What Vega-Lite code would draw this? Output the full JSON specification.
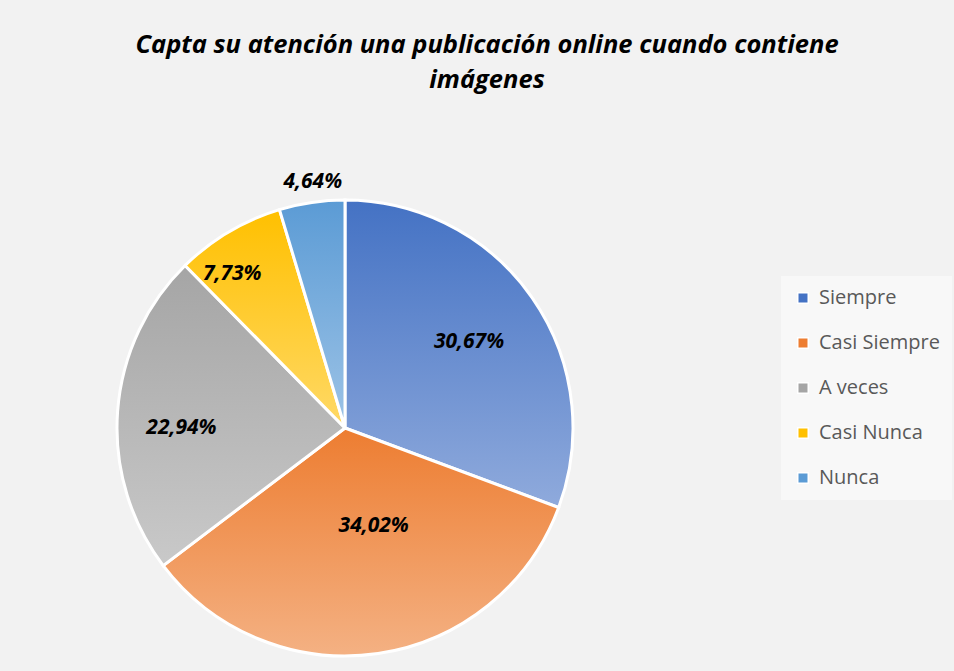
{
  "$schema": "https://vega.github.io/schema/vega-lite/v6.json",
  "width": 690,
  "height": 456,
  "autosize": {"type": "none"},
  "padding": {"left": 0, "top": 200, "right": 264, "bottom": 15},
  "background": "#f2f2f2",
  "title": {
    "text": ["Capta su atención una publicación online cuando contiene", "imágenes"],
    "anchor": "middle",
    "dx": 142,
    "offset": 77,
    "font": "Open Sans",
    "fontSize": 25.5,
    "fontStyle": "italic",
    "fontWeight": "bold",
    "color": "#000000",
    "lineHeight": 35
  },
  "config": {
    "view": {"stroke": null},
    "legend": {
      "orient": "none",
      "legendX": 781,
      "legendY": 76,
      "fillColor": "#f8f8f8",
      "padding": 12,
      "symbolType": "square",
      "symbolSize": 110,
      "symbolStrokeColor": "#ffffff",
      "symbolStrokeWidth": 1.5,
      "symbolOpacity": 1,
      "labelFont": "Open Sans",
      "labelFontSize": 20,
      "labelColor": "#595959",
      "labelOffset": 6,
      "rowPadding": 25,
      "labelLimit": 300
    }
  },
  "data": {
    "values": [
      {"cat": "Siempre", "pct": 30.67, "label": "30,67%"},
      {"cat": "Casi Siempre", "pct": 34.02, "label": "34,02%"},
      {"cat": "A veces", "pct": 22.94, "label": "22,94%"},
      {"cat": "Casi Nunca", "pct": 7.73, "label": "7,73%"},
      {"cat": "Nunca", "pct": 4.64, "label": "4,64%"}
    ]
  },
  "transform": [{"window": [{"op": "row_number", "as": "i"}]}],
  "encoding": {
    "theta": {"field": "pct", "type": "quantitative", "stack": true},
    "order": {"field": "i", "type": "quantitative"}
  },
  "layer": [
    {
      "mark": {"type": "arc", "outerRadius": 228, "opacity": 0},
      "encoding": {
        "color": {
          "field": "cat",
          "type": "nominal",
          "sort": ["Siempre", "Casi Siempre", "A veces", "Casi Nunca", "Nunca"],
          "scale": {
            "domain": ["Siempre", "Casi Siempre", "A veces", "Casi Nunca", "Nunca"],
            "range": ["#4472C4", "#ED7D31", "#A5A5A5", "#FFC000", "#5B9BD5"]
          },
          "legend": {"title": null, "symbolOpacity": 1, "labelFontSize": 20}
        }
      }
    },
    {
      "mark": {"type": "arc", "outerRadius": 228, "stroke": "#ffffff", "strokeWidth": 3},
      "encoding": {
        "fill": {
          "condition": [
            {"test": "datum.cat === 'Siempre'", "value": {"gradient": "linear", "x1": 0, "y1": 0, "x2": 0, "y2": 1, "stops": [{"offset": 0, "color": "#4472C4"}, {"offset": 1, "color": "#8FAADC"}]}},
            {"test": "datum.cat === 'Casi Siempre'", "value": {"gradient": "linear", "x1": 0, "y1": 0, "x2": 0, "y2": 1, "stops": [{"offset": 0, "color": "#ED7D31"}, {"offset": 1, "color": "#F4B183"}]}},
            {"test": "datum.cat === 'A veces'", "value": {"gradient": "linear", "x1": 0, "y1": 0, "x2": 0, "y2": 1, "stops": [{"offset": 0, "color": "#A5A5A5"}, {"offset": 1, "color": "#C9C9C9"}]}},
            {"test": "datum.cat === 'Casi Nunca'", "value": {"gradient": "linear", "x1": 0, "y1": 0, "x2": 0, "y2": 1, "stops": [{"offset": 0, "color": "#FFC000"}, {"offset": 1, "color": "#FFD966"}]}}
          ],
          "value": {"gradient": "linear", "x1": 0, "y1": 0, "x2": 0, "y2": 1, "stops": [{"offset": 0, "color": "#5B9BD5"}, {"offset": 1, "color": "#9DC3E6"}]}
        }
      }
    },
    {
      "mark": {"type": "text", "radius": 151, "font": "Open Sans", "fontSize": 21, "fontStyle": "italic", "fontWeight": "bold", "fill": "#000000"},
      "encoding": {"text": {"field": "label"}, "opacity": {"condition": {"test": "datum.cat === 'Siempre'", "value": 1}, "value": 0}}
    },
    {
      "mark": {"type": "text", "radius": 101, "dx": 14, "dy": -2, "font": "Open Sans", "fontSize": 21, "fontStyle": "italic", "fontWeight": "bold", "fill": "#000000"},
      "encoding": {"text": {"field": "label"}, "opacity": {"condition": {"test": "datum.cat === 'Casi Siempre'", "value": 1}, "value": 0}}
    },
    {
      "mark": {"type": "text", "radius": 164, "dy": 12, "font": "Open Sans", "fontSize": 21, "fontStyle": "italic", "fontWeight": "bold", "fill": "#000000"},
      "encoding": {"text": {"field": "label"}, "opacity": {"condition": {"test": "datum.cat === 'A veces'", "value": 1}, "value": 0}}
    },
    {
      "mark": {"type": "text", "radius": 190, "dx": -16, "dy": 10, "font": "Open Sans", "fontSize": 21, "fontStyle": "italic", "fontWeight": "bold", "fill": "#000000"},
      "encoding": {"text": {"field": "label"}, "opacity": {"condition": {"test": "datum.cat === 'Casi Nunca'", "value": 1}, "value": 0}}
    },
    {
      "mark": {"type": "text", "radius": 249, "dx": 4, "font": "Open Sans", "fontSize": 21, "fontStyle": "italic", "fontWeight": "bold", "fill": "#000000"},
      "encoding": {"text": {"field": "label"}, "opacity": {"condition": {"test": "datum.cat === 'Nunca'", "value": 1}, "value": 0}}
    }
  ]
}
